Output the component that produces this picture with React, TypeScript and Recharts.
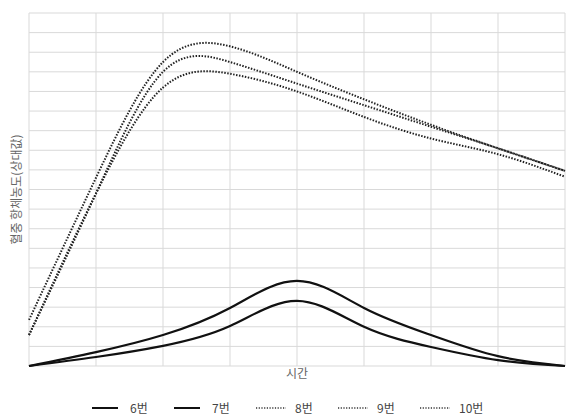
import React from 'react';
import { LineChart, Line, XAxis, YAxis, CartesianGrid } from 'recharts';

const times = [0, 1, 2, 3, 4, 5, 6, 7, 8];
const s6 = [0, 0.71, 1.58, 2.96, 4.34, 2.96, 1.58, 0.5, 0];
const s7 = [0, 0.46, 1.03, 2.04, 3.32, 2.0, 0.97, 0.3, 0];
const s8 = [2.35, 9.6, 15.5, 16.3, 15.0, 13.6, 12.3, 11.1, 9.95];
const s9 = [1.58, 8.8, 15.0, 15.5, 14.4, 13.3, 12.2, 11.1, 9.95];
const s10 = [1.58, 8.8, 14.2, 14.9, 14.0, 12.7, 11.6, 10.8, 9.65];
const yTicks = [0, 1, 2, 3, 4, 5, 6, 7, 8, 9, 10, 11, 12, 13, 14, 15, 16, 17, 18];

const seriesNames = ['6번', '7번', '8번', '9번', '10번'];
const seriesValues = [s6, s7, s8, s9, s10];
const seriesDotted = [false, false, true, true, true];

const data = times.map((t, i) => {
  const row: Record<string, number> = { t };
  seriesNames.forEach((n, k) => {
    row[n] = seriesValues[k][i];
  });
  return row;
});

const FONT = '"Noto Sans CJK KR", "Noto Sans", sans-serif';

const hiddenTick = () => <g />;

export default function App() {
  return (
    <div style={{ position: 'absolute', left: 0, top: 0, width: 568, height: 419, background: '#fff' }}>
      <LineChart width={568} height={419} data={data} margin={{ top: 13, right: 3, left: 0, bottom: 0 }}>
        <CartesianGrid stroke="#d9d9d9" strokeWidth={1} />
        <XAxis
          dataKey="t"
          type="number"
          domain={[0, 8]}
          ticks={times}
          interval={0}
          tick={hiddenTick}
          tickLine={false}
          axisLine={false}
          height={53}
          label={{ value: '시간', position: 'insideTop', offset: 3, fill: '#666', fontSize: 12, fontFamily: FONT }}
        />
        <YAxis
          type="number"
          domain={[0, 18]}
          ticks={yTicks}
          interval={0}
          tick={hiddenTick}
          tickLine={false}
          axisLine={false}
          width={29}
          label={{ value: '혈중 항체농도(상대값)', angle: -90, position: 'center', dx: 2, fill: '#666', fontSize: 12, fontFamily: FONT }}
        />
        {seriesNames.map((n, k) => (
          <Line
            key={n}
            dataKey={n}
            type="natural"
            stroke={seriesDotted[k] ? '#222' : '#111'}
            strokeWidth={seriesDotted[k] ? 2 : 2.2}
            strokeDasharray={seriesDotted[k] ? '1.5 1.5' : undefined}
            dot={false}
            activeDot={false}
            isAnimationActive={false}
          />
        ))}
      </LineChart>
      <div
        style={{
          position: 'absolute',
          top: 399,
          left: 92,
          display: 'flex',
          alignItems: 'center',
          fontFamily: FONT,
          fontSize: 12,
          color: '#444',
        }}
      >
        {seriesNames.map((n, k) => (
          <div key={n} style={{ display: 'flex', alignItems: 'center', width: 82 }}>
            <svg width={seriesDotted[k] ? 30 : 26} height={6} style={{ marginRight: seriesDotted[k] ? 9 : 12 }}>
              <line
                x1={0}
                x2={seriesDotted[k] ? 30 : 26}
                y1={3}
                y2={3}
                stroke={seriesDotted[k] ? '#333' : '#111'}
                strokeWidth={seriesDotted[k] ? 1.5 : 2}
                strokeDasharray={seriesDotted[k] ? '1.2 1.5' : undefined}
              />
            </svg>
            <span>{n}</span>
          </div>
        ))}
      </div>
    </div>
  );
}
